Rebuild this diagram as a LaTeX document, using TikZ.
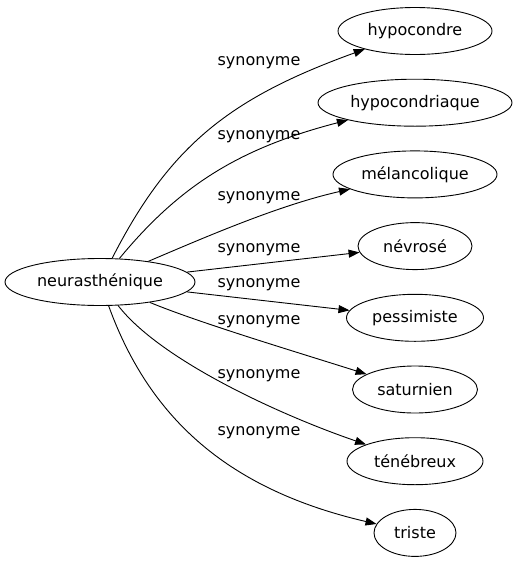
\documentclass[tikz,border=0pt]{standalone}
\usepackage{fontspec}
\setmainfont{DejaVu Sans}
\usetikzlibrary{
arrows.meta,
positioning,
shapes
}
\tikzset{>={Triangle[length=11pt,width=8pt]}}

\begin{document}
\begin{tikzpicture}[x=1pt, y=-1pt, font=\fontsize{16}{19}\selectfont, line width=.9pt,
		word/.style={draw, ellipse, minimum height=47pt, inner sep=0pt},
		syn/.style={inner sep=0pt}]
		\useasboundingbox (0,0) rectangle (518,563);
		\node[word, minimum width=190pt] at (100,282)      (neur)        {neurasthénique};

		\node[word, minimum width=154pt] at (415,31)       (hypocondre)  {hypocondre};
		\node[word, minimum width=194pt, below=23.8pt of hypocondre]    (hypocondriaque) {hypocondriaque};
		\node[word, minimum width=164pt, below=23.8pt of hypocondriaque] (melancolique) {mélancolique};
		\node[word, minimum width=114pt, below=23.8pt of melancolique]  (nevrose)     {névrosé};
		\node[word, minimum width=137pt, below=23.8pt of nevrose]       (pessimiste)  {pessimiste};
		\node[word, minimum width=125pt, below=23.8pt of pessimiste]    (saturnien)   {saturnien};
		\node[word, minimum width=136pt, below=23.8pt of saturnien]     (tenebreux)   {ténébreux};
		\node[word, minimum width=82pt, below=23.8pt of tenebreux]      (triste)      {triste};

		\draw[->] (neur) .. controls (170,145) and (230,98) .. (hypocondre);
		\draw[->] (neur) .. controls (180,185) and (240,148) .. (hypocondriaque);
		\draw[->] (neur) .. controls (210,235) and (280,205) .. (melancolique);
		\draw[->] (neur) -- (nevrose);
		\draw[->] (neur) -- (pessimiste);
		\draw[->] (neur) .. controls (200,323) and (290,350) .. (saturnien);
		\draw[->] (neur) .. controls (160,360) and (280,415) .. (tenebreux);
		\draw[->] (neur) .. controls (150,420) and (230,490) .. (triste);

		\node[syn] at (259,63)  (syn1) {synonyme};
		\node[syn] at (259,137) (syn2) {synonyme};
		\node[syn] at (259,198) (syn3) {synonyme};
		\node[syn] at (259,250) (syn4) {synonyme};
		\node[syn] at (259,285) (syn5) {synonyme};
		\node[syn] at (259,322) (syn6) {synonyme};
		\node[syn] at (259,376) (syn7) {synonyme};
		\node[syn] at (259,433) (syn8) {synonyme};
	\end{tikzpicture}
\end{document}
